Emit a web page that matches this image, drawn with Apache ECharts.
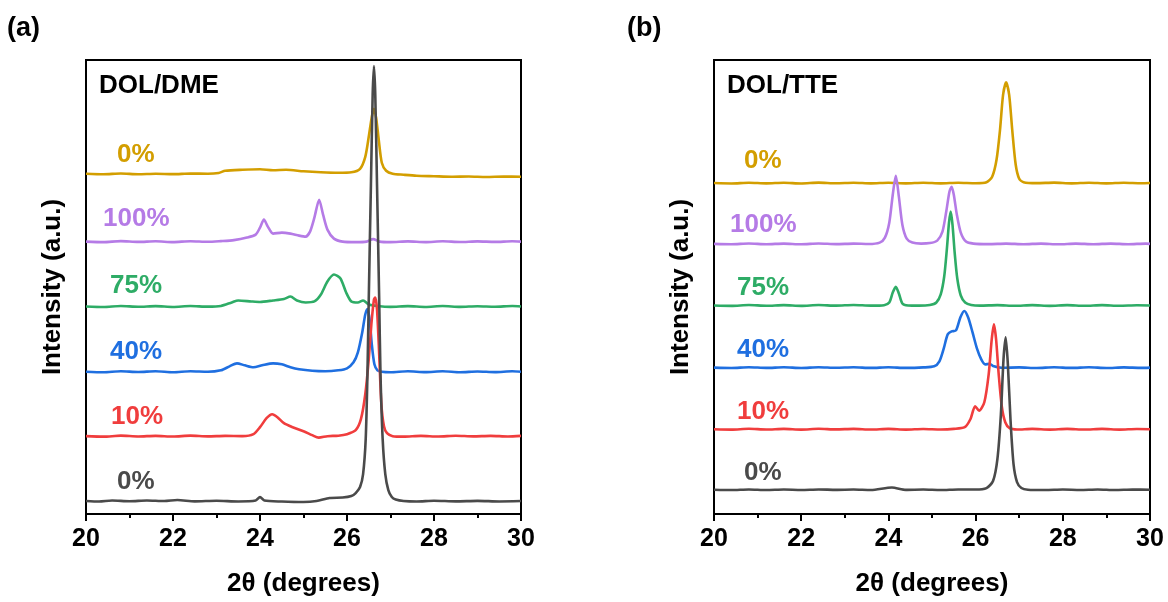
<!DOCTYPE html>
<html><head><meta charset="utf-8">
<script src="https://cdn.jsdelivr.net/npm/echarts@6/dist/echarts.min.js"></script>
<style>html,body{margin:0;padding:0;background:#fff}#c{width:1168px;height:602px}</style>
</head><body><div id="c"></div>
<script>
// ---- x-axis ticks ----
const xTicks = [20, 22, 24, 26, 28, 30];
const panelTitles = ['DOL/DME', 'DOL/TTE'];
const panelTags = ['(a)', '(b)'];
const sampleLabels = ['0%', '100%', '75%', '40%', '10%', '0%'];
const colors = ['#D39E00', '#B57BE6', '#2EAC66', '#1F6FE0', '#F03D3D', '#4A4A4A'];

// ---- panel (a) DOL/DME (offset intensity, a.u.) ----
const dmeGold0 = [[20.0,341],[20.4,340.5],[20.8,341.2],[21.2,340.5],[21.6,341],[22.0,340.6],[22.4,341.2],[22.8,341],[23.05,341.8],[23.2,344],[23.6,345],[24.0,345.5],[24.3,344.5],[24.6,345],[25.0,343.5],[25.4,342.5],[25.8,342],[26.1,342.5],[26.3,346],[26.42,358],[26.5,378],[26.57,398],[26.62,406],[26.67,397],[26.73,375],[26.8,352],[26.9,344],[27.05,341],[27.3,340],[27.6,339],[28.0,338.5],[28.4,338],[28.8,338.3],[29.2,337.8],[29.6,338.2],[30.0,338]];
const dmePurple100 = [[20.0,273],[20.4,272.5],[20.8,273.5],[21.2,272.7],[21.6,273.3],[22.0,272.5],[22.4,273.4],[22.8,272.8],[23.1,273.5],[23.4,274.5],[23.7,277],[23.9,280],[24.0,287],[24.09,295],[24.18,288],[24.3,281],[24.5,282],[24.7,281],[24.9,279],[25.05,278],[25.15,283],[25.25,297],[25.36,315],[25.45,300],[25.55,285],[25.7,276],[25.9,273],[26.2,272.5],[26.45,273],[26.6,275.5],[26.75,273],[27.0,272.5],[27.4,273.2],[27.8,272.5],[28.2,273.3],[28.6,272.6],[29.0,273.2],[29.4,272.7],[29.8,273.3],[30.0,273]];
const dmeGreen75 = [[20.0,208],[20.4,207.5],[20.8,208.5],[21.2,207.7],[21.6,208.3],[22.0,207.5],[22.4,208.4],[22.8,207.8],[23.1,208.5],[23.35,212],[23.5,214],[23.8,213],[24.0,212.5],[24.3,214],[24.55,215.5],[24.7,218],[24.85,214],[25.05,212],[25.25,213],[25.4,220],[25.55,233],[25.7,240],[25.85,236],[25.98,222],[26.1,213],[26.25,212],[26.37,214],[26.5,210],[26.7,208.5],[27.0,207.6],[27.4,208.3],[27.8,207.5],[28.2,208.4],[28.6,207.6],[29.0,208.2],[29.4,207.7],[29.8,208.4],[30.0,208]];
const dmeBlue40 = [[20.0,142.5],[20.4,142],[20.8,143],[21.2,142.3],[21.6,143],[22.0,142],[22.4,143],[22.8,142.5],[23.1,144],[23.3,148],[23.47,151],[23.65,149],[23.85,147],[24.05,149],[24.3,151],[24.5,150],[24.7,147],[24.9,145],[25.2,143.5],[25.5,143],[25.8,144],[26.0,146],[26.15,152],[26.25,162],[26.35,182],[26.42,200],[26.47,205.5],[26.52,195],[26.57,170],[26.63,150],[26.7,144],[26.8,142.5],[27.0,142],[27.4,143],[27.8,142.2],[28.2,143],[28.6,142],[29.0,142.8],[29.4,142.2],[29.8,143],[30.0,142.5]];
const dmeRed10 = [[20.0,78],[20.4,77.5],[20.8,78.5],[21.2,77.7],[21.6,78.3],[22.0,77.6],[22.4,78.5],[22.8,77.8],[23.2,78.3],[23.6,78],[23.85,80],[24.0,87],[24.15,96],[24.28,100],[24.4,97],[24.55,91],[24.75,87],[25.0,83],[25.2,79],[25.35,76.5],[25.55,78],[25.8,78.5],[26.0,80],[26.2,84],[26.32,95],[26.42,120],[26.5,155],[26.56,190],[26.62,215],[26.65,217],[26.69,205],[26.74,160],[26.79,110],[26.85,88],[26.92,81],[27.05,78],[27.3,77.5],[27.7,78.3],[28.1,77.6],[28.5,78.4],[28.9,77.8],[29.3,78.3],[29.7,77.7],[30.0,78.3]];
const dmeGray0 = [[20.0,13],[20.3,12.5],[20.6,13.5],[21.0,12.8],[21.4,13.6],[21.8,13],[22.1,14],[22.5,12.7],[23.0,13.3],[23.5,12.6],[23.9,13.5],[24.0,17],[24.1,13.5],[24.5,12.5],[25.0,12],[25.3,13],[25.6,16],[25.9,16.5],[26.1,18],[26.2,21],[26.3,27],[26.37,40],[26.43,75],[26.47,140],[26.5,215],[26.55,330],[26.59,420],[26.62,449],[26.65,420],[26.69,330],[26.74,215],[26.77,140],[26.82,75],[26.88,40],[26.95,24],[27.03,17],[27.12,14.5],[27.3,13],[27.6,12.5],[28.0,13.3],[28.5,12.7],[29.0,13.2],[29.5,12.6],[30.0,13]];

// ---- panel (b) DOL/TTE (offset intensity, a.u.) ----
const tteGold0 = [[20.0,331.7],[20.4,331.3],[20.8,332],[21.2,331.4],[21.6,332],[22.0,331.3],[22.4,332.1],[22.8,331.5],[23.2,332],[23.6,331.4],[24.0,332],[24.4,331.4],[24.8,332],[25.2,331.4],[25.6,332],[26.0,331.5],[26.25,332.5],[26.38,338],[26.48,355],[26.56,385],[26.63,420],[26.7,432.7],[26.77,420],[26.84,385],[26.92,350],[27.0,336],[27.1,332.5],[27.4,331.6],[27.8,332.1],[28.2,331.4],[28.6,332],[29.0,331.4],[29.4,332],[29.8,331.5],[30.0,331.7]];
const ttePurple100 = [[20.0,270.7],[20.4,270.3],[20.8,271.1],[21.2,270.4],[21.6,271],[22.0,270.3],[22.4,271.1],[22.8,270.5],[23.2,271],[23.55,270.6],[23.8,272],[23.92,277],[24.02,292],[24.1,320],[24.17,339],[24.24,318],[24.32,290],[24.42,276],[24.55,272],[24.75,271],[24.95,271.5],[25.12,274],[25.24,283],[25.33,304],[25.4,323],[25.45,328],[25.5,320],[25.57,300],[25.66,282],[25.78,273],[25.95,271],[26.3,270.5],[26.7,271],[27.1,270.4],[27.5,271],[27.9,270.3],[28.3,271],[28.7,270.4],[29.1,271],[29.5,270.4],[29.9,271],[30.0,270.7]];
const tteGreen75 = [[20.0,209],[20.4,208.6],[20.8,209.4],[21.2,208.7],[21.6,209.3],[22.0,208.6],[22.4,209.4],[22.8,208.8],[23.2,209.5],[23.6,208.8],[23.9,209.3],[24.02,212],[24.1,222],[24.17,227.7],[24.24,221],[24.32,211],[24.45,209],[24.7,208.8],[24.95,209.5],[25.1,212],[25.2,220],[25.28,238],[25.34,265],[25.39,292],[25.43,303],[25.47,290],[25.52,262],[25.58,236],[25.66,219],[25.76,212],[25.9,209.5],[26.1,208.8],[26.5,209.3],[26.9,208.7],[27.3,209.3],[27.7,208.6],[28.1,209.3],[28.5,208.7],[28.9,209.3],[29.3,208.7],[29.7,209.2],[30.0,209]];
const tteBlue40 = [[20.0,146.7],[20.4,146.3],[20.8,147.1],[21.2,146.4],[21.6,147],[22.0,146.3],[22.4,147.1],[22.8,146.5],[23.2,147],[23.6,146.4],[24.0,147],[24.4,146.4],[24.8,146.9],[25.05,148],[25.17,153],[25.27,166],[25.36,180],[25.45,183],[25.55,184],[25.65,197],[25.74,203.5],[25.83,197],[25.93,182],[26.03,166],[26.13,155],[26.22,150],[26.32,150.5],[26.42,148],[26.6,146.5],[27.0,146.9],[27.4,146.3],[27.8,147],[28.2,146.4],[28.6,147],[29.0,146.3],[29.4,146.9],[29.8,146.4],[30.0,146.7]];
const tteRed10 = [[20.0,85],[20.4,84.6],[20.8,85.4],[21.2,84.7],[21.6,85.3],[22.0,84.6],[22.4,85.4],[22.8,84.8],[23.2,85.3],[23.6,84.7],[24.0,85.3],[24.4,84.6],[24.8,85.2],[25.2,84.7],[25.5,85.3],[25.75,87],[25.88,95],[25.99,108],[26.08,103.5],[26.2,112],[26.3,140],[26.37,175],[26.42,190],[26.47,175],[26.53,140],[26.6,108],[26.68,92],[26.78,86],[26.95,84.7],[27.3,85.3],[27.7,84.6],[28.1,85.3],[28.5,84.7],[28.9,85.3],[29.3,84.6],[29.7,85.2],[30.0,85]];
const tteGray0 = [[20.0,24.3],[20.4,24],[20.8,24.6],[21.2,24],[21.6,24.5],[22.0,24.1],[22.4,24.6],[22.8,24.2],[23.2,24.5],[23.6,24],[24.08,26.5],[24.4,24.2],[24.8,24.5],[25.2,24],[25.6,24.6],[26.0,24.5],[26.25,26],[26.4,33],[26.5,55],[26.58,100],[26.64,155],[26.69,177],[26.74,150],[26.8,95],[26.87,50],[26.95,32],[27.05,26],[27.2,24.3],[27.6,24],[28.0,24.5],[28.4,24.1],[28.8,24.6],[29.2,24],[29.6,24.5],[30.0,24.3]];

const panelData = [
  [dmeGold0, dmePurple100, dmeGreen75, dmeBlue40, dmeRed10, dmeGray0],
  [tteGold0, ttePurple100, tteGreen75, tteBlue40, tteRed10, tteGray0]
];

const FONT = 'Arial, "Liberation Sans", Helvetica, sans-serif';
const chart = echarts.init(document.getElementById('c'), null, {renderer: 'canvas'});

const grids = [
  {left: 86, top: 60, width: 435, height: 455},
  {left: 714, top: 60, width: 436, height: 455}
];

const xAxes = grids.map((g, i) => ({
  type: 'value', gridIndex: i, min: 20, max: 30, interval: 2,
  axisLine: {show: true, onZero: false, lineStyle: {color: '#000', width: 2}},
  axisTick: {show: true, inside: false, length: 7, lineStyle: {color: '#000', width: 2}},
  minorTick: {show: true, splitNumber: 2, length: 4, lineStyle: {color: '#000', width: 2}},
  splitLine: {show: false},
  axisLabel: {color: '#000', fontSize: 25, fontWeight: 'bold', fontFamily: FONT, margin: 13,
    formatter: v => xTicks.includes(v) ? String(v) : ''},
  name: '2θ (degrees)', nameLocation: 'middle', nameGap: 57,
  nameTextStyle: {color: '#000', fontSize: 26, fontWeight: 'bold', fontFamily: FONT}
}));

const yAxes = grids.map((g, i) => ({
  type: 'value', gridIndex: i, min: 0, max: 455,
  axisLine: {show: false}, axisTick: {show: false}, axisLabel: {show: false}, splitLine: {show: false},
  name: 'Intensity (a.u.)', nameLocation: 'middle', nameGap: 20,
  nameTextStyle: {color: '#000', fontSize: 26, fontWeight: 'bold', fontFamily: FONT}
}));

const series = [];
panelData.forEach((arr, p) => {
  arr.forEach((d, k) => {
    series.push({
      type: 'line', xAxisIndex: p, yAxisIndex: p, data: d,
      showSymbol: false, symbol: 'none', smooth: 0.25, z: 2 + k,
      lineStyle: {color: colors[k], width: 2.6}, animation: false, silent: true
    });
  });
});

// label positions (pixels) for text annotations
const labelPos = [
  [[117,157],[103,221],[110,288],[110,354],[111,419],[117,484]],
  [[744,163],[730,227],[737,290],[737,352],[737,414],[744,475]]
];
const graphics = [];
labelPos.forEach((pp, p) => {
  pp.forEach((xy, k) => {
    graphics.push({type: 'text', left: xy[0], top: xy[1] - 15, z: 100,
      style: {text: sampleLabels[k], fill: colors[k], font: 'bold 26px ' + FONT}});
  });
});
[[99, 73], [727, 73]].forEach((xy, p) => {
  graphics.push({type: 'text', left: xy[0], top: xy[1], z: 100,
    style: {text: panelTitles[p], fill: '#000', font: 'bold 26px ' + FONT}});
});
[[7, 15], [627, 15]].forEach((xy, p) => {
  graphics.push({type: 'text', left: xy[0], top: xy[1], z: 100,
    style: {text: panelTags[p], fill: '#000', font: 'bold 27px ' + FONT}});
});

chart.setOption({
  backgroundColor: '#fff',
  animation: false,
  grid: grids.map(g => Object.assign({show: true, borderColor: '#000', borderWidth: 2, backgroundColor: 'transparent', containLabel: false}, g)),
  xAxis: xAxes, yAxis: yAxes, series: series, graphic: graphics
});
</script></body></html>
